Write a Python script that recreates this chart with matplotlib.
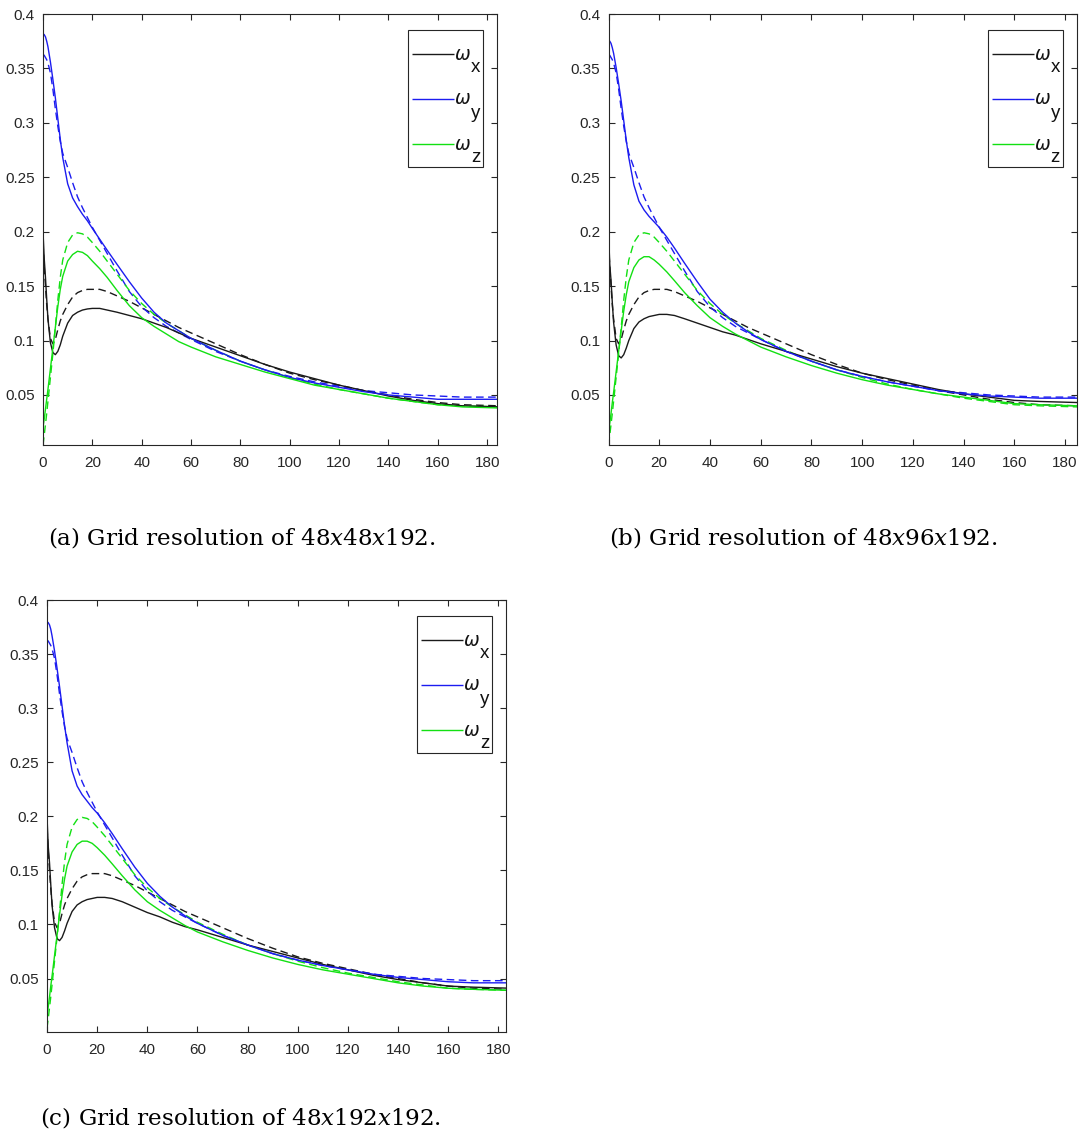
import matplotlib
matplotlib.use("Agg")
import matplotlib.pyplot as plt
from matplotlib.patches import Rectangle

# Time samples shared by every curve
t = [0, 0.5, 1, 1.5, 2, 3, 4, 5, 6, 7, 8, 10, 12, 14, 16, 18, 20, 23, 26, 30,
     35, 40, 45, 50, 55, 60, 70, 80, 90, 100, 110, 120, 130, 140, 150, 160, 170, 185]

# Reference vorticity components (dashed, same in every panel)
wx_ref = [0.190, 0.168, 0.150, 0.133, 0.120, 0.102, 0.097, 0.101, 0.110, 0.118,
          0.124, 0.133, 0.140, 0.144, 0.146, 0.147, 0.147, 0.147, 0.145, 0.141,
          0.136, 0.130, 0.124, 0.118, 0.112, 0.107, 0.097, 0.087, 0.078, 0.070,
          0.064, 0.059, 0.054, 0.050, 0.046, 0.043, 0.041, 0.040]
wy_ref = [0.363, 0.362, 0.360, 0.358, 0.355, 0.346, 0.331, 0.313, 0.297, 0.283,
          0.272, 0.259, 0.245, 0.232, 0.222, 0.213, 0.204, 0.192, 0.180, 0.164,
          0.145, 0.131, 0.121, 0.113, 0.107, 0.101, 0.090, 0.081, 0.073, 0.067,
          0.062, 0.058, 0.054, 0.052, 0.050, 0.049, 0.048, 0.048]
wz_ref = [0.004, 0.013, 0.023, 0.033, 0.044, 0.066, 0.088, 0.112, 0.137, 0.158,
          0.174, 0.190, 0.197, 0.199, 0.198, 0.195, 0.190, 0.182, 0.173, 0.161,
          0.146, 0.134, 0.124, 0.116, 0.109, 0.102, 0.091, 0.081, 0.073, 0.066,
          0.060, 0.055, 0.051, 0.047, 0.044, 0.041, 0.040, 0.039]

# Grid 48x48x192
wx_a = [0.200, 0.175, 0.158, 0.138, 0.120, 0.098, 0.089, 0.087, 0.090, 0.096,
        0.104, 0.116, 0.123, 0.126, 0.128, 0.129, 0.1295, 0.1295, 0.128, 0.126,
        0.123, 0.120, 0.116, 0.112, 0.107, 0.102, 0.094, 0.086, 0.078, 0.071,
        0.065, 0.059, 0.054, 0.049, 0.045, 0.042, 0.040, 0.039]
wy_a = [0.382, 0.381, 0.379, 0.375, 0.370, 0.356, 0.340, 0.323, 0.304, 0.285,
        0.268, 0.244, 0.231, 0.223, 0.216, 0.210, 0.203, 0.193, 0.183, 0.170,
        0.154, 0.139, 0.126, 0.116, 0.109, 0.102, 0.091, 0.081, 0.073, 0.066,
        0.061, 0.057, 0.053, 0.050, 0.048, 0.046, 0.046, 0.046]
wz_a = [0.020, 0.028, 0.037, 0.046, 0.055, 0.074, 0.093, 0.112, 0.131, 0.147,
        0.159, 0.173, 0.179, 0.182, 0.181, 0.178, 0.173, 0.166, 0.158, 0.146,
        0.132, 0.121, 0.113, 0.106, 0.099, 0.094, 0.085, 0.078, 0.071, 0.065,
        0.059, 0.055, 0.051, 0.047, 0.044, 0.041, 0.039, 0.038]

# Grid 48x96x192
wx_b = [0.200, 0.170, 0.155, 0.135, 0.117, 0.096, 0.086, 0.084, 0.087, 0.093,
        0.100, 0.111, 0.117, 0.120, 0.122, 0.123, 0.124, 0.124, 0.123, 0.120,
        0.116, 0.112, 0.108, 0.105, 0.101, 0.097, 0.090, 0.083, 0.076, 0.070,
        0.065, 0.060, 0.055, 0.051, 0.048, 0.045, 0.044, 0.043]
wy_b = [0.376, 0.375, 0.373, 0.369, 0.364, 0.351, 0.336, 0.320, 0.302, 0.284,
        0.268, 0.243, 0.228, 0.220, 0.214, 0.209, 0.204, 0.195, 0.185, 0.171,
        0.154, 0.138, 0.126, 0.116, 0.108, 0.101, 0.090, 0.081, 0.073, 0.067,
        0.062, 0.058, 0.054, 0.051, 0.049, 0.048, 0.047, 0.047]
wz_b = [0.015, 0.024, 0.033, 0.043, 0.052, 0.071, 0.090, 0.109, 0.127, 0.142,
        0.154, 0.167, 0.174, 0.177, 0.177, 0.174, 0.170, 0.163, 0.155, 0.144,
        0.132, 0.121, 0.113, 0.106, 0.100, 0.094, 0.085, 0.077, 0.070, 0.064,
        0.059, 0.055, 0.051, 0.048, 0.045, 0.042, 0.041, 0.040]

# Grid 48x192x192
wx_c = [0.200, 0.172, 0.157, 0.137, 0.118, 0.097, 0.087, 0.085, 0.088, 0.094,
        0.101, 0.112, 0.118, 0.121, 0.123, 0.124, 0.125, 0.125, 0.124, 0.121,
        0.116, 0.111, 0.107, 0.102, 0.098, 0.095, 0.088, 0.081, 0.075, 0.069,
        0.063, 0.058, 0.053, 0.049, 0.046, 0.043, 0.042, 0.041]
wy_c = [0.380, 0.379, 0.377, 0.373, 0.367, 0.353, 0.337, 0.320, 0.302, 0.284,
        0.268, 0.242, 0.228, 0.220, 0.214, 0.208, 0.203, 0.194, 0.184, 0.170,
        0.153, 0.138, 0.126, 0.116, 0.108, 0.101, 0.090, 0.081, 0.073, 0.067,
        0.062, 0.058, 0.054, 0.051, 0.049, 0.047, 0.046, 0.046]
wz_c = [0.015, 0.024, 0.033, 0.043, 0.052, 0.071, 0.090, 0.109, 0.127, 0.142,
        0.154, 0.167, 0.174, 0.177, 0.177, 0.175, 0.171, 0.164, 0.156, 0.145,
        0.132, 0.121, 0.113, 0.106, 0.099, 0.093, 0.084, 0.076, 0.069, 0.063,
        0.058, 0.054, 0.050, 0.046, 0.043, 0.041, 0.040, 0.039]

captions = ["(a) Grid resolution of 48$x$48$x$192.",
            "(b) Grid resolution of 48$x$96$x$192.",
            "(c) Grid resolution of 48$x$192$x$192."]
legend_subscripts = ["x", "y", "z"]
x_ticks = [0, 20, 40, 60, 80, 100, 120, 140, 160, 180]
y_ticks = [0.05, 0.1, 0.15, 0.2, 0.25, 0.3, 0.35, 0.4]
y_tick_labels = ["0.05", "0.1", "0.15", "0.2", "0.25", "0.3", "0.35", "0.4"]

W, H = 1089, 1140
C_X, C_Y, C_Z = "#1a1a1a", "#1c1cf0", "#12e012"
AX_COL = "#262626"

plt.rcParams["font.family"] = ["Liberation Sans", "DejaVu Sans"]

fig = plt.figure(figsize=(W / 100, H / 100), dpi=100)


def px_axes(left, top, right, bottom):
    return fig.add_axes([left / W, 1 - bottom / H, (right - left) / W, (bottom - top) / H])


def draw_legend(ax, box, colors):
    """Boxed legend in the top-right corner, laid out in pixel offsets."""
    aw = box[2] - box[0]
    ah = box[3] - box[1]
    fx = lambda px: px / aw
    fy = lambda px: 1 - px / ah
    lw_, lh = 75, 137
    left = aw - 14 - lw_
    top = 16
    ax.add_patch(Rectangle((fx(left), fy(top + lh)), fx(lw_), lh / ah,
                           transform=ax.transAxes, facecolor="white",
                           edgecolor=AX_COL, lw=0.8, zorder=5))
    for i, (c, sub) in enumerate(zip(colors, legend_subscripts)):
        ry = top + 24 + 45 * i
        ax.plot([fx(left + 4), fx(left + 46)], [fy(ry), fy(ry)], color=c, lw=1.0,
                transform=ax.transAxes, zorder=6, solid_capstyle="butt")
        ax.text(fx(left + 47), fy(ry), "\u03c9", transform=ax.transAxes,
                ha="left", va="center", fontsize=13.5, style="italic",
                family="DejaVu Sans", color="#111111", zorder=7)
        ax.text(fx(left + 63), fy(ry + 14), sub, transform=ax.transAxes,
                ha="left", va="center", fontsize=13.5, family="Liberation Sans",
                color="#111111", zorder=7)


panels = [
    dict(box=(43, 14, 497, 445), xmax=184.0, ymin=0.004,
         solid=(wx_a, wy_a, wz_a), cap_pos=(48, 537)),
    dict(box=(608.5, 14, 1076.5, 445), xmax=184.5, ymin=0.004,
         solid=(wx_b, wy_b, wz_b), cap_pos=(609, 537)),
    dict(box=(47, 600, 506, 1031.5), xmax=183.0, ymin=0.001,
         solid=(wx_c, wy_c, wz_c), cap_pos=(40, 1117)),
]

for p, caption in zip(panels, captions):
    ax = px_axes(*p["box"])
    sx, sy, sz = p["solid"]
    kw = dict(lw=1.0, dashes=(5.5, 3.2))
    ax.plot(t, wx_ref, color=C_X, **kw)
    ax.plot(t, wy_ref, color=C_Y, **kw)
    ax.plot(t, wz_ref, color=C_Z, **kw)
    ax.plot(t, sx, color=C_X, lw=1.0)
    ax.plot(t, sy, color=C_Y, lw=1.0)
    ax.plot(t, sz, color=C_Z, lw=1.0)

    ax.set_xlim(0, p["xmax"])
    ax.set_ylim(p["ymin"], 0.4)
    ax.set_xticks(x_ticks)
    ax.set_yticks(y_ticks)
    ax.set_yticklabels(y_tick_labels)
    ax.tick_params(direction="in", length=4, width=0.8, colors=AX_COL,
                   labelsize=11, top=True, right=True)
    ax.tick_params(axis="x", pad=8)
    ax.tick_params(axis="y", pad=6)
    for s in ax.spines.values():
        s.set_color(AX_COL)
        s.set_linewidth(0.8)

    draw_legend(ax, p["box"], (C_X, C_Y, C_Z))

    cx, cy = p["cap_pos"]
    fig.text(cx / W, 1 - cy / H, caption, ha="left", va="center", fontsize=16.6,
             family="DejaVu Serif", math_fontfamily="dejavuserif", color="black")

fig.savefig("out.png", dpi=100, facecolor="white")
